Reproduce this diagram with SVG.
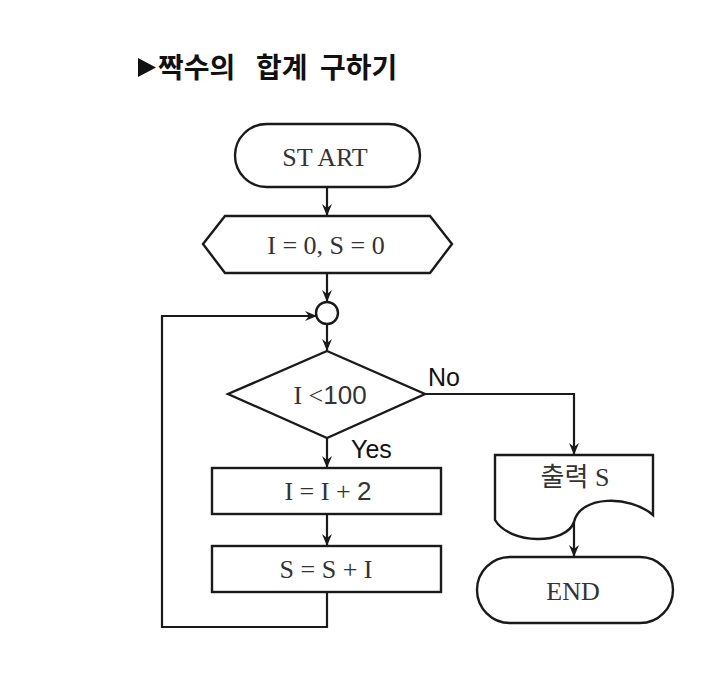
<svg xmlns="http://www.w3.org/2000/svg" width="719" height="677" viewBox="0 0 719 677">
<defs>
<marker id="arr" viewBox="0 0 12 10" refX="11" refY="5" markerWidth="12" markerHeight="10" markerUnits="userSpaceOnUse" orient="auto">
<path d="M0,0 L12,5 L0,10 L4,5 Z" fill="#1a1a1a"/>
</marker>
<style>
.s{fill:#fff;stroke:#1a1a1a;stroke-width:2.4}
.c{fill:none;stroke:#1a1a1a;stroke-width:2.2}
.t{font-family:"Liberation Serif","Noto Sans CJK KR",serif;font-size:26px;fill:#333;text-anchor:middle;dominant-baseline:central}
.a{font-family:"Liberation Sans",Arial,sans-serif}
.l{font-family:"Liberation Sans",Arial,sans-serif;font-size:25px;fill:#111}
</style>
</defs>
<rect width="719" height="677" fill="#fff"/>
<g id="title">
<polygon points="138,58 156,67.5 138,77" fill="#111"/>
<text font-family="'Noto Sans CJK KR',sans-serif" font-weight="bold" font-size="28" fill="#111" y="78"><tspan x="158">짝수의</tspan><tspan x="256">합계</tspan><tspan x="320">구하기</tspan></text>
</g>
<g id="connectors">
<line class="c" x1="327" y1="187" x2="327" y2="215" marker-end="url(#arr)"/>
<line class="c" x1="327" y1="273" x2="327" y2="301" marker-end="url(#arr)"/>
<line class="c" x1="327" y1="324" x2="327" y2="350" marker-end="url(#arr)"/>
<line class="c" x1="327" y1="438" x2="327" y2="467" marker-end="url(#arr)"/>
<line class="c" x1="327" y1="514" x2="327" y2="545" marker-end="url(#arr)"/>
<polyline class="c" points="327,592 327,627 162,627 162,316 316,316" marker-end="url(#arr)"/>
<polyline class="c" points="425,394 574,394 574,454" marker-end="url(#arr)"/>
<line class="c" x1="574" y1="522" x2="574" y2="556" marker-end="url(#arr)"/>
</g>
<g id="start">
<rect class="s" x="235" y="124" width="185" height="63" rx="31.5"/>
<text class="t" x="325" y="157">ST ART</text>
</g>
<g id="init">
<polygon class="s" points="203,244 225,216 430,216 452,244 430,273 225,273"/>
<text class="t" x="326" y="245">I = 0, S = 0</text>
</g>
<g id="join">
<circle class="s" cx="327" cy="313" r="11"/>
</g>
<g id="cond">
<polygon class="s" points="327,351 425,394 327,438 228,394"/>
<text class="t" x="330" y="395" font-size="27">I &lt;<tspan class="a">100</tspan></text>
<text class="l" x="428" y="386">No</text>
<text class="l" x="351" y="458">Yes</text>
</g>
<g id="inc">
<rect class="s" x="212" y="468" width="229" height="46"/>
<text class="t" x="328" y="491">I = I + <tspan class="a">2</tspan></text>
</g>
<g id="sum">
<rect class="s" x="212" y="546" width="229" height="46"/>
<text class="t" x="326" y="569">S = S + I</text>
</g>
<g id="output">
<path class="s" d="M495,455 H653 V515 C630,495 580,495 574,522 C566,545 510,545 495,520 Z"/>
<text class="t" x="575" y="477" font-size="27">출력 S</text>
</g>
<g id="end">
<rect class="s" x="477" y="557" width="196" height="66" rx="33"/>
<text class="t" x="573" y="591" font-size="30">END</text>
</g>
</svg>
